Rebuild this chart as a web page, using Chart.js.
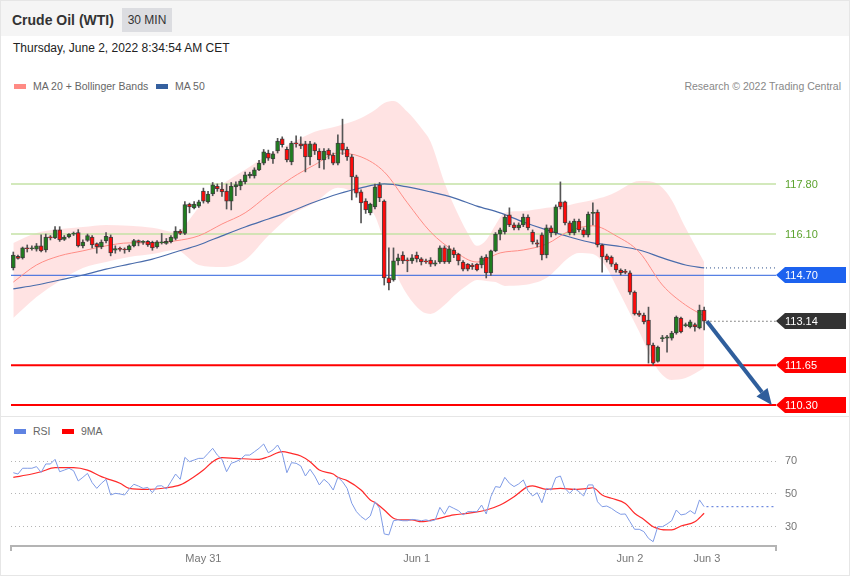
<!DOCTYPE html>
<html><head><meta charset="utf-8">
<script src="https://cdn.jsdelivr.net/npm/chart.js@4.4.1/dist/chart.umd.min.js"></script>
<style>
html,body{margin:0;padding:0;background:#fff;}
body{width:850px;height:576px;position:relative;overflow:hidden;font-family:"Liberation Sans",Arial,sans-serif;}
#frame{position:absolute;left:0;top:0;width:848px;height:574px;border:1px solid #e6e6e6;}
#header{position:absolute;left:1px;top:1px;width:848px;height:35px;background:#f5f5f5;}
#title{position:absolute;left:11px;top:11px;font-size:14px;line-height:16px;font-weight:bold;color:#333;}
#tf{position:absolute;left:121px;top:7px;width:50px;height:24px;background:#dcdde1;color:#333;font-size:12px;line-height:24px;text-align:center;}
#date{position:absolute;left:13px;top:41px;font-size:12px;line-height:14px;color:#222;}
.leg{position:absolute;font-size:10.5px;color:#666;line-height:12px;white-space:nowrap;}
.sw{display:inline-block;width:12px;height:5px;vertical-align:middle;margin-right:7px;position:relative;top:-1px;}
#divider{position:absolute;left:1px;top:416px;width:848px;height:1px;background:#e6e6e6;}
canvas{position:absolute;left:0;}
</style>
</head>
<body>
<div id="frame"></div>
<div id="header"><div id="title">Crude Oil (WTI)</div><div id="tf">30 MIN</div></div>
<div id="date">Thursday, June 2, 2022 8:34:54 AM CET</div>
<div class="leg" style="left:14px;top:80px;"><span class="sw" style="background:#ff8a84"></span>MA 20 + Bollinger Bands</div>
<div class="leg" style="left:156px;top:80px;"><span class="sw" style="background:#35609f"></span>MA 50</div>
<div class="leg" style="right:9px;top:80px;color:#888;">Research © 2022 Trading Central</div>
<div id="divider"></div>
<div class="leg" style="left:14px;top:425px;"><span class="sw" style="background:#5f83e2"></span>RSI</div>
<div class="leg" style="left:62px;top:425px;"><span class="sw" style="background:#ff0000"></span>9MA</div>
<canvas id="main" width="850" height="341" style="top:75px"></canvas>
<canvas id="rsi" width="850" height="159" style="top:417px"></canvas>
<script>
// ---------- data ----------
const opens = [114.95,115.34,115.29,115.63,115.60,115.59,115.70,115.56,116.00,115.97,
116.24,115.92,116.00,116.10,116.15,115.70,115.88,116.00,115.78,115.66,
115.87,116.00,115.55,115.60,115.58,115.56,115.70,115.88,115.82,115.85,
115.82,115.66,115.80,115.78,115.84,115.95,116.20,116.12,117.12,116.99,
117.05,117.56,117.19,117.46,117.73,117.63,117.56,117.22,117.70,117.73,
117.87,118.07,118.07,118.28,118.51,118.85,118.65,118.92,119.33,118.98,
118.55,119.17,119.16,119.16,118.72,119.16,118.92,118.62,118.95,118.78,
118.51,119.19,118.98,118.72,118.04,117.53,117.22,116.82,117.02,117.77,
117.22,114.61,114.54,115.19,115.39,115.22,115.19,115.39,115.26,115.19,
115.22,115.08,115.15,115.63,115.15,115.56,115.42,115.15,115.08,115.05,
115.08,115.05,115.32,114.78,115.53,116.10,116.17,116.75,116.41,116.31,
116.41,116.68,116.17,115.80,116.07,115.39,116.31,116.14,117.19,117.19,
116.48,116.14,116.54,116.24,116.07,116.80,116.85,115.73,115.36,115.32,
115.08,114.88,114.83,114.78,114.13,113.42,113.35,113.18,112.33,111.78,
112.55,112.57,112.57,112.74,113.25,112.99,112.95,113.03,112.91,113.52];
const highs = [115.49,115.39,115.66,115.73,115.70,115.78,116.07,116.10,116.05,116.35,
116.35,116.05,116.12,116.17,116.25,115.90,116.10,116.05,115.80,115.90,
116.15,116.07,115.70,115.66,115.63,115.73,115.92,115.90,115.88,115.88,
115.86,115.88,116.12,115.95,116.05,116.35,116.25,117.20,117.15,117.20,
117.25,117.66,117.55,117.85,117.80,117.85,117.80,117.85,117.87,117.95,
118.20,118.20,118.35,118.60,118.97,118.95,118.90,119.35,119.40,119.05,
119.25,119.43,119.40,119.25,119.25,119.20,119.00,119.00,119.00,118.85,
119.47,120.00,119.05,118.80,118.10,117.60,117.30,117.15,117.80,117.85,
117.26,115.63,115.63,115.42,115.50,115.29,115.40,115.49,115.30,115.25,
115.30,115.20,115.70,115.70,115.70,115.63,115.45,115.20,115.10,115.10,
115.10,115.35,115.40,115.56,116.15,116.30,116.75,116.99,116.48,116.48,
116.78,116.75,116.24,115.90,116.14,116.41,116.38,117.09,117.87,117.22,
116.54,116.61,116.61,116.31,116.85,117.16,116.92,115.76,115.42,115.36,
115.12,114.92,114.90,114.85,114.17,113.49,113.42,113.62,112.40,112.30,
112.66,112.66,112.80,113.32,113.28,113.08,113.18,113.08,113.69,113.62];
const lows = [114.88,115.25,115.25,115.49,115.55,115.52,115.49,115.49,115.90,115.94,
115.85,115.88,115.97,116.05,115.66,115.63,115.85,115.63,115.45,115.60,
115.80,115.36,115.45,115.52,115.45,115.50,115.66,115.70,115.75,115.68,
115.55,115.62,115.76,115.75,115.80,115.90,116.08,116.08,116.82,116.95,
117.00,117.15,117.15,117.40,117.55,117.38,116.95,116.92,117.40,117.60,
117.80,118.00,118.00,118.25,118.45,118.60,118.50,118.85,119.05,118.55,
118.45,119.05,119.00,118.21,118.45,118.80,118.35,118.30,118.65,118.45,
118.45,118.80,118.60,117.26,117.35,116.48,116.80,116.75,116.95,117.20,
114.37,114.20,114.50,115.05,115.10,114.82,115.10,115.15,115.05,115.10,
115.00,115.02,115.10,115.10,115.10,115.30,115.05,114.85,114.85,114.90,
114.85,114.95,114.61,114.70,115.50,115.90,116.10,116.35,116.24,116.24,
116.35,116.24,115.76,115.66,115.22,115.29,116.00,116.07,116.95,116.41,
116.07,116.07,116.17,116.00,116.00,116.41,115.66,114.81,115.15,115.00,
114.81,114.71,114.75,114.05,113.35,113.30,113.05,111.72,111.65,111.75,
112.45,112.09,112.50,112.70,112.74,112.95,112.91,112.80,112.88,112.85];
const closes = [115.39,115.27,115.63,115.60,115.63,115.70,115.53,116.00,115.97,116.24,
115.90,116.00,116.10,116.12,115.70,115.83,116.05,115.73,115.66,115.83,
116.02,115.46,115.61,115.58,115.56,115.70,115.88,115.82,115.84,115.73,
115.63,115.84,115.84,115.85,116.00,116.20,116.12,117.10,117.02,117.12,
117.19,117.22,117.46,117.77,117.63,117.53,117.22,117.73,117.78,117.90,
118.11,118.14,118.28,118.51,118.89,118.68,118.82,119.26,119.13,118.62,
119.19,119.16,119.09,118.72,119.16,118.92,118.62,118.92,118.78,118.51,
119.19,118.95,118.72,118.04,117.49,117.16,116.92,117.12,117.70,117.33,
114.61,114.44,115.19,115.29,115.19,115.19,115.29,115.26,115.15,115.15,
115.08,115.12,115.63,115.15,115.60,115.39,115.19,114.91,114.91,114.99,
114.88,115.29,114.78,115.53,116.10,116.24,116.68,116.41,116.31,116.41,
116.68,116.31,115.83,115.76,115.39,116.31,116.14,117.02,117.02,116.48,
116.14,116.54,116.24,116.07,116.78,116.82,115.73,115.32,115.22,115.08,
114.88,114.78,114.80,114.13,113.39,113.35,113.12,112.33,111.72,112.26,
112.59,112.61,112.74,113.28,112.78,113.03,113.12,112.95,113.52,113.14];

const maIdx = [0,5,10,15,20,25,30,35,40,45,50,55,60,65,70,75,80,85,90,95,100,105,110,115,120,125,130,135,140,145,149];
const ma20 = [114.47,115.05,115.36,115.53,115.70,115.80,115.80,115.87,116.04,116.44,116.82,117.43,118.00,118.45,118.85,118.72,118.21,117.16,116.17,115.53,115.15,115.46,115.56,115.76,116.21,116.38,116.04,115.49,114.37,113.69,113.32];
const ma50 = [114.24,114.37,114.54,114.71,114.91,115.08,115.25,115.49,115.73,116.04,116.34,116.61,116.88,117.19,117.46,117.67,117.80,117.70,117.53,117.33,117.05,116.82,116.51,116.24,116.00,115.80,115.70,115.56,115.29,115.05,114.95];

const bandIdx = [0,5,10,15,20,25,30,35,40,45,50,55,60,65,70,75,78,80,82,85,88,90,93,95,98,100,102,104,106,110,115,120,122,125,128,130,135,138,140,142,145,149];
const bbUpper = [115.80,116.14,116.27,116.34,116.41,116.38,116.31,116.17,116.99,117.77,118.28,118.79,119.19,119.57,119.77,120.04,120.31,120.55,120.62,120.25,119.70,119.23,117.84,117.09,116.14,115.70,115.90,116.41,116.82,116.88,116.99,117.09,117.16,117.26,117.39,117.53,117.90,117.87,117.67,117.26,116.31,115.15];
const bbLower = [113.25,113.96,114.51,114.95,115.15,115.32,115.42,115.56,115.05,114.98,115.22,116.04,116.75,117.16,117.67,117.33,116.71,115.83,114.95,114.03,113.49,113.39,113.69,114.00,114.37,114.54,114.51,114.47,114.34,114.37,114.61,115.32,115.46,115.42,114.95,114.34,112.78,111.76,111.32,111.15,111.21,111.55];

const rsi = [62.9,62.1,65.6,65.6,65.6,66.6,63.1,68.2,68.2,71.0,
63.5,64.5,65.6,64.1,57.9,60.1,62.5,56.9,53.4,56.5,
58.9,49.4,50.4,50.0,49.4,53.0,55.9,54.8,53.4,54.0,
50.8,54.8,55.0,53.0,57.5,62.1,58.9,72.2,69.6,70.6,
71.6,71.6,74.6,77.7,73.6,71.0,63.5,68.6,69.6,71.0,
73.6,73.6,75.6,77.7,80.3,75.0,76.7,79.7,74.6,62.9,
69.0,68.6,67.0,60.9,65.0,60.9,55.5,58.9,56.5,52.4,
60.1,57.5,53.4,44.4,39.3,36.3,34.3,36.7,45.3,41.3,
25.8,25.2,33.8,34.3,33.8,33.8,34.6,34.3,33.8,34.3,
33.6,34.3,41.9,37.7,42.7,41.3,39.9,37.3,39.3,39.3,
39.3,43.3,37.9,48.4,54.5,54.0,60.1,56.5,54.5,56.1,
58.5,52.0,48.8,50.8,44.7,53.4,52.4,59.9,60.9,53.4,
50.4,53.4,51.4,48.8,55.5,55.5,45.3,42.3,42.7,41.3,
39.3,37.7,37.9,33.2,28.6,28.6,27.2,23.1,21.1,30.2,
30.2,31.8,33.8,40.3,37.3,37.9,39.9,37.9,46.4,42.3];
const ma9Idx = [0,4,6,9,13,16,19,20,23,25,29,33,36,39,41,43,45,48,53,55,58,60,62,64,66,69,70,72,75,77,78,80,82,84,86,88,91,95,98,102,105,108,111,112,115,118,121,124,125,127,129,132,134,136,138,141,142,144,147,149];
const rsiMa9 = [60.1,62.1,63.5,66.0,66.0,64.5,60.5,59.5,56.5,53.4,52.8,53.8,55.5,60.5,64.5,69.6,72.0,71.6,71.0,72.6,75.7,74.6,73.0,69.6,64.5,62.1,60.1,58.1,52.4,46.4,44.8,40.3,35.3,34.3,34.3,33.2,34.7,37.3,38.3,40.3,43.3,48.4,54.5,54.9,52.8,53.4,52.8,53.4,53.8,49.4,47.4,44.3,38.3,34.6,30.2,28.2,28.2,30.6,33.2,38.3];

const levelValues = [117.80, 116.10, 114.70, 113.14, 111.65, 110.30];
const rsiTicks = [30, 50, 70];
const dateTickPos = [41, 87, 133, 149.6];
const dateTickLabels = ['May 31', 'Jun 1', 'Jun 2', 'Jun 3'];
const arrowFrom = [149.6, 113.14];
const arrowTo = [163.6, 110.30];
const slotCount = 165;

// ---------- styles ----------
const FONT = '"Liberation Sans", Arial, sans-serif';
Chart.defaults.font.family = FONT;
const levelStyles = [
  {line:'#c4e2a6', width:1.5, text:'#5ca32e'},
  {line:'#c4e2a6', width:1.5, text:'#5ca32e'},
  {line:'#2b60dd', width:1, tag:'#1d62ef'},
  {line:'#222', width:1, dash:[1,3], tag:'#333333', fromLast:true},
  {line:'#ff0000', width:2, tag:'#ff0000'},
  {line:'#ff0000', width:2, tag:'#ff0000'}
];
const xMin = -0.5, xMax = slotCount - 0.5;
const lastIdx = closes.length - 1;
const pts = (idx, vals) => idx.map((k, i) => ({x: k, y: vals[i]}));

const levelDatasets = levelValues.map((v, i) => {
  const st = levelStyles[i];
  return {
    type: 'line',
    data: [{x: st.fromLast ? lastIdx + 0.5 : xMin, y: v}, {x: xMax, y: v}],
    borderColor: st.line, borderWidth: st.width, borderDash: st.dash || [],
    pointRadius: 0, fill: false, order: 90
  };
});

const mainDeco = {
  id: 'mainDeco',
  afterDatasetsDraw(chart) {
    const {ctx, scales: {x, y}, chartArea} = chart;
    ctx.save();
    ctx.font = '11px ' + FONT;
    ctx.textBaseline = 'middle';
    levelValues.forEach((v, i) => {
      const st = levelStyles[i];
      const py = Math.round(y.getPixelForValue(v));
      const x0 = chartArea.right;
      if (st.tag) {
        const x1 = x0 + 9, x2 = 846, h = 8;
        ctx.fillStyle = st.tag;
        ctx.beginPath();
        ctx.moveTo(x0, py); ctx.lineTo(x1, py - h); ctx.lineTo(x2, py - h);
        ctx.lineTo(x2, py + h); ctx.lineTo(x1, py + h); ctx.closePath(); ctx.fill();
        ctx.fillStyle = '#fff';
      } else {
        ctx.fillStyle = st.text;
      }
      ctx.fillText(v.toFixed(2), x0 + 9, py + 0.5);
    });
    // arrow
    const sx = x.getPixelForValue(arrowFrom[0]), sy = y.getPixelForValue(arrowFrom[1]);
    const ex = x.getPixelForValue(arrowTo[0]), ey = y.getPixelForValue(arrowTo[1]);
    const ang = Math.atan2(ey - sy, ex - sx);
    const hl = 16, hw = 7;
    const bx = ex - hl * Math.cos(ang), by = ey - hl * Math.sin(ang);
    ctx.strokeStyle = '#2f5e9c'; ctx.fillStyle = '#2f5e9c';
    ctx.lineWidth = 4; ctx.lineCap = 'butt';
    ctx.beginPath(); ctx.moveTo(sx, sy); ctx.lineTo(bx, by); ctx.stroke();
    ctx.beginPath();
    ctx.moveTo(ex, ey);
    ctx.lineTo(bx + hw * Math.sin(ang), by - hw * Math.cos(ang));
    ctx.lineTo(bx - hw * Math.sin(ang), by + hw * Math.cos(ang));
    ctx.closePath(); ctx.fill();
    ctx.restore();
  }
};

const bodyColor = c => closes[c.dataIndex] >= opens[c.dataIndex] ? '#1f7d1f' : '#ff0a0a';

new Chart(document.getElementById('main'), {
  type: 'bar',
  data: {
    datasets: [
      {type:'line', data: pts(bandIdx, bbUpper), borderWidth: 0, borderColor:'rgba(0,0,0,0)', pointRadius: 0,
       fill: '+1', backgroundColor: 'rgba(255,0,0,0.11)', cubicInterpolationMode: 'monotone', order: 100},
      {type:'line', data: pts(bandIdx, bbLower), borderWidth: 0, borderColor:'rgba(0,0,0,0)', pointRadius: 0,
       fill: false, cubicInterpolationMode: 'monotone', order: 100},
      ...levelDatasets,
      {type:'line', data: pts(maIdx, ma20), borderColor: '#ff8d86', borderWidth: 1, pointRadius: 0,
       fill: false, cubicInterpolationMode: 'monotone', order: 80},
      {type:'line', data: pts(maIdx, ma50), borderColor: '#4a6cab', borderWidth: 1.2, pointRadius: 0,
       fill: false, cubicInterpolationMode: 'monotone', order: 80},
      {type:'line', data: [{x: maIdx[maIdx.length-1] + 0.4, y: ma50[ma50.length-1]}, {x: xMax, y: ma50[ma50.length-1]}],
       borderColor: '#2c4f8a', borderWidth: 1, borderDash: [1, 3], pointRadius: 0, fill: false, order: 5},
      {type:'bar', data: lows.map((l, i) => ({x: i, y: [l, highs[i]]})), backgroundColor: '#555',
       barThickness: 1, grouped: false, order: 20},
      {type:'bar', data: opens.map((o, i) => ({x: i, y: [o, closes[i]]})), backgroundColor: bodyColor,
       borderColor: 'rgba(45,45,45,0.85)', borderWidth: 1, borderSkipped: false, barThickness: 4,
       minBarLength: 1, grouped: false, order: 10}
    ]
  },
  options: {
    responsive: false, animation: false, devicePixelRatio: 1, events: [],
    layout: {padding: {top: 20, bottom: 4, left: 11, right: 74}},
    plugins: {legend: {display: false}, tooltip: {enabled: false}},
    scales: {
      x: {type: 'linear', min: xMin, max: xMax, offset: false, display: false},
      y: {min: 110.06, max: 120.82, display: false}
    }
  },
  plugins: [mainDeco]
});

const rsiDeco = {
  id: 'rsiDeco',
  afterDraw(chart) {
    const {ctx, chartArea} = chart;
    ctx.save();
    ctx.strokeStyle = '#b4b4b4'; ctx.lineWidth = 2;
    [chartArea.left, chartArea.right].forEach(px => {
      ctx.beginPath(); ctx.moveTo(px, chartArea.bottom - 1); ctx.lineTo(px, chartArea.bottom + 5); ctx.stroke();
    });
    ctx.restore();
  }
};

new Chart(document.getElementById('rsi'), {
  type: 'line',
  data: {
    datasets: [
      {data: rsi.map((v, i) => ({x: i, y: v})), borderColor: '#7f9be6', borderWidth: 1, pointRadius: 0, tension: 0, fill: false},
      {data: pts(ma9Idx, rsiMa9), borderColor: '#ff2a2a', borderWidth: 1.2, pointRadius: 0, cubicInterpolationMode: 'monotone', fill: false},
      {data: [{x: lastIdx + 0.5, y: rsi[lastIdx]}, {x: xMax, y: rsi[lastIdx]}], borderColor: '#4d6fd8', borderWidth: 1,
       borderDash: [2, 3], pointRadius: 0, fill: false}
    ]
  },
  options: {
    responsive: false, animation: false, devicePixelRatio: 1, events: [],
    layout: {padding: {top: 23, left: 11, right: 0, bottom: 0}},
    plugins: {legend: {display: false}, tooltip: {enabled: false}},
    scales: {
      x: {type: 'linear', min: xMin, max: xMax,
          grid: {display: false, drawTicks: false},
          border: {display: true, color: '#b4b4b4', width: 2},
          afterBuildTicks: s => { s.ticks = dateTickPos.map(v => ({value: v})); },
          afterFit: s => { s.height = 30; },
          ticks: {autoSkip: false, maxRotation: 0, padding: 6, color: '#777', font: {size: 11},
                  callback: v => { const i = dateTickPos.indexOf(v); return i >= 0 ? dateTickLabels[i] : ''; }}},
      y: {position: 'right', min: 18.48, max: 82.73,
          afterBuildTicks: s => { s.ticks = rsiTicks.map(v => ({value: v})); },
          afterFit: s => { s.width = 74; },
          grid: {color: '#b5b5b5', drawTicks: false, lineWidth: 1},
          border: {display: false, dash: [1, 3]},
          ticks: {padding: 9, color: '#777', font: {size: 11}}}
    }
  },
  plugins: [rsiDeco]
});
</script>
</body></html>
